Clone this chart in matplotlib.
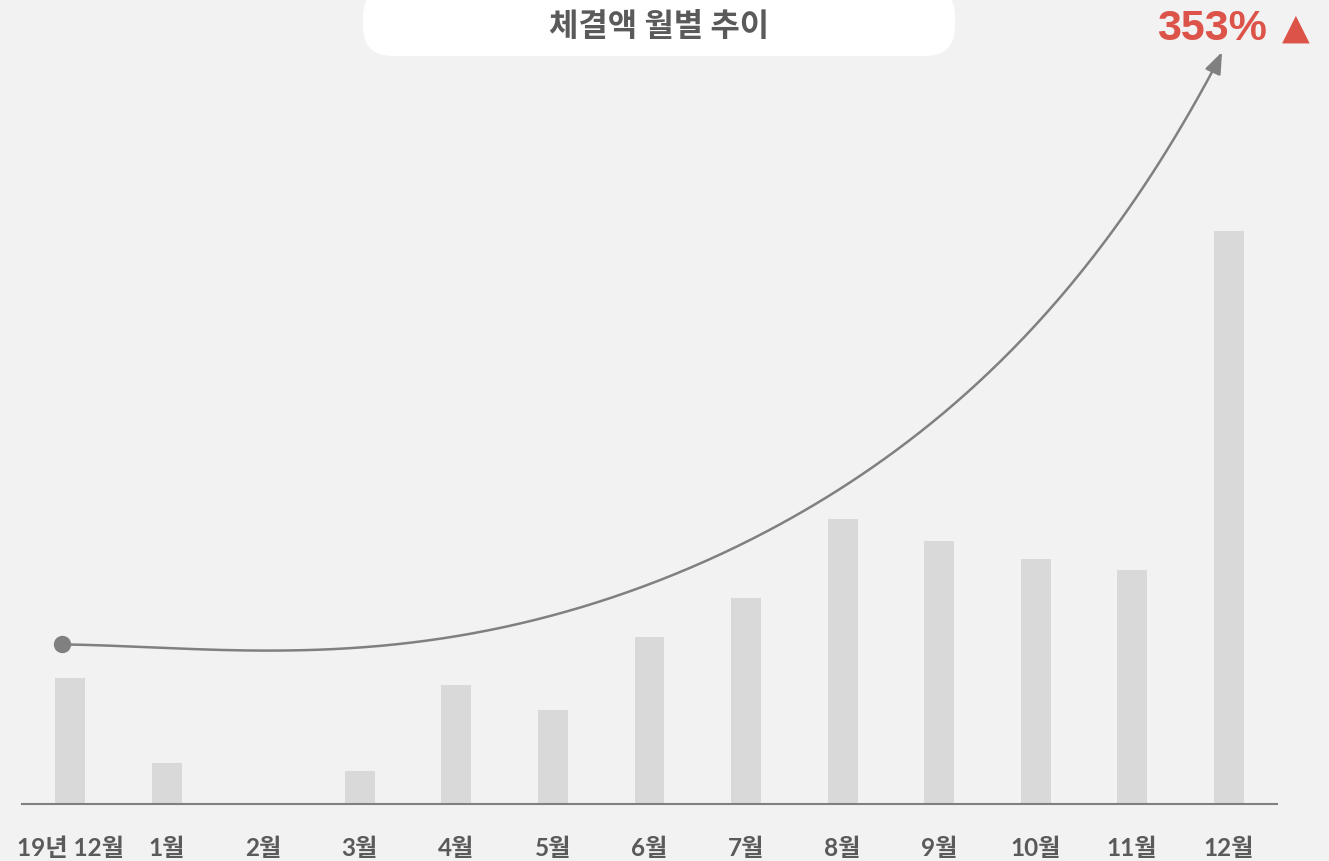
#!/usr/bin/env python3
"""Monthly transaction amount bars with a growth arrow."""

import numpy as np
import matplotlib
matplotlib.use("Agg")
import matplotlib.pyplot as plt
from matplotlib.patches import FancyArrowPatch, FancyBboxPatch
from matplotlib.path import Path


TITLE = "체결액 월별 추이"
GROWTH = "353%"
MONTHS = ["19년 12월", "1월", "2월", "3월", "4월", "5월", "6월",
          "7월", "8월", "9월", "10월", "11월", "12월"]
AMOUNTS = [126, 41, 0, 33, 119, 94, 167, 206, 285, 263, 245, 234, 573]

# guide points of the decorative growth arrow (figure pixels, y down)
ARROW_GUIDE = [(62, 645), (230, 653), (430, 638), (500, 627), (600, 607),
               (700, 566), (800, 513), (850, 483), (950, 403), (1000, 367),
               (1060, 300), (1100, 247), (1167, 153), (1222, 53)]

W, H = 1329, 862
BG = "#f2f2f2"
BAR = "#d9d9d9"
GREY = "#808080"
TEXT = "#5a5a5a"
RED = "#dc5449"


def smooth_curve(points, deg=5, n=300):
    # least-squares polynomial through the guide points, y as a function of x
    pts = np.asarray(points, dtype=float)
    x0, x1 = pts[0, 0], pts[-1, 0]
    u = (pts[:, 0] - x0) / (x1 - x0)
    coef = np.polyfit(u, pts[:, 1], deg)
    us = np.linspace(0, 1, n)
    ys = np.polyval(coef, us)
    ys[0], ys[-1] = pts[0, 1], pts[-1, 1]
    return np.column_stack([x0 + us * (x1 - x0), ys])


fig = plt.figure(figsize=(W / 100, H / 100), dpi=100, facecolor=BG)

# bars
ax = fig.add_axes([22 / W, 57 / H, 1255 / W, 805 / H])
ax.set_facecolor("none")
x = np.arange(len(MONTHS))
ax.bar(x, AMOUNTS, width=0.31, color=BAR, zorder=1)
ax.set_xlim(-0.5, len(MONTHS) - 0.5)
ax.set_ylim(0, 805)
for side in ("top", "left", "right"):
    ax.spines[side].set_visible(False)
ax.spines["bottom"].set_color(GREY)
ax.spines["bottom"].set_linewidth(1.5)
ax.set_yticks([])
ax.set_xticks(x)
ax.set_xticklabels(MONTHS, fontsize=17.5, fontweight="bold", color=TEXT,
                   family=["Lato", "Noto Sans CJK KR"])
ax.tick_params(axis="x", length=0, pad=23)

# overlay in pixel coordinates
ov = fig.add_axes([0, 0, 1, 1])
ov.set_xlim(0, W)
ov.set_ylim(H, 0)
ov.axis("off")
ov.set_facecolor("none")

box = FancyBboxPatch((363, -12), 592, 69,
                     boxstyle="round,pad=0,rounding_size=30",
                     facecolor="white", edgecolor="none")
ov.add_patch(box)
ov.text(659, 27, TITLE, ha="center", va="center", fontsize=23,
        fontweight="bold", color=TEXT, family=["Noto Sans CJK KR"])

ov.text(1267, 40, GROWTH, ha="right", va="baseline", fontsize=31,
        fontweight="bold", color=RED, family=["Liberation Sans"])
ov.text(1296, 39, "▲", ha="center", va="baseline", fontsize=26,
        color=RED, family=["DejaVu Sans"])

curve = smooth_curve(ARROW_GUIDE)
arrow = FancyArrowPatch(path=Path(curve),
                        arrowstyle="-|>,head_length=13,head_width=5",
                        mutation_scale=1, color=GREY, linewidth=1.8,
                        shrinkA=0, shrinkB=0)
ov.add_patch(arrow)
ov.plot([ARROW_GUIDE[0][0]], [ARROW_GUIDE[0][1]], "o", color=GREY,
        markersize=11.5)

fig.savefig("out.png", dpi=100, facecolor=BG)
